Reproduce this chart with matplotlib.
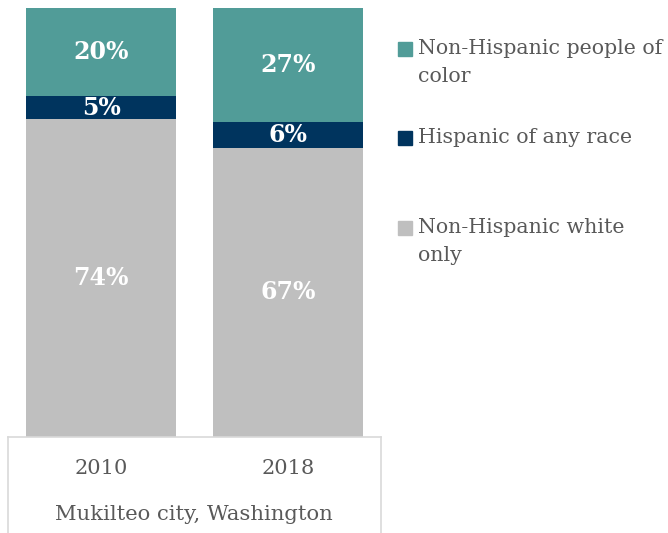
import numpy as np
import matplotlib.pyplot as plt
from matplotlib.patches import Rectangle

# 数据
years = ['2010', '2018']
white_only = [74.1, 67.4]
hispanic = [5.4, 6.0]
poc = [20.5, 26.6]
white_lbl = ['74%', '67%']
hisp_lbl = ['5%', '6%']
poc_lbl = ['20%', '27%']
legend_labels = ['Non-Hispanic people of\ncolor', 'Hispanic of any race', 'Non-Hispanic white\nonly']
place = 'Mukilteo city, Washington'

c_white = '#BFBFBF'
c_hisp = '#00345E'
c_poc = '#519C98'
c_text = '#595959'
c_line = '#D9D9D9'

plt.rcParams['font.family'] = ['DejaVu Serif']

W, H = 668, 533
fig = plt.figure(figsize=(W / 100, H / 100), dpi=100)
ax = fig.add_axes([8 / W, 1 - 437 / H, (381 - 8) / W, (437 - 8) / H])

x = np.arange(len(years))
bw = 0.806
b1 = ax.bar(x, white_only, bw, color=c_white)
b2 = ax.bar(x, hispanic, bw, bottom=white_only, color=c_hisp)
bot3 = np.array(white_only) + np.array(hispanic)
b3 = ax.bar(x, poc, bw, bottom=bot3, color=c_poc)

for bars, labs in [(b1, white_lbl), (b2, hisp_lbl), (b3, poc_lbl)]:
    ax.bar_label(bars, labels=labs, label_type='center', color='white',
                 fontsize=17, fontweight='bold')

ax.set_xlim(-0.5, 1.5)
ax.set_ylim(0, 100)
ax.axis('off')

# 底部的框线
fig.add_artist(plt.Line2D([8 / W, 381 / W], [1 - 437 / H] * 2, color=c_line, lw=1.2))
fig.add_artist(plt.Line2D([8 / W, 8 / W], [0, 1 - 437 / H], color=c_line, lw=1.2))
fig.add_artist(plt.Line2D([381 / W, 381 / W], [0, 1 - 437 / H], color=c_line, lw=1.2))

for i, yr in enumerate(years):
    ax.text(x[i], -7.3, yr, ha='center', va='center', fontsize=15, color=c_text)
fig.text(194 / W, 1 - 515 / H, place, ha='center', va='center', fontsize=15.2, color=c_text)

# 图例（手动放置）
leg_y = [49, 138, 228]
leg_c = [c_poc, c_hisp, c_white]
for yy, cc, lab in zip(leg_y, leg_c, legend_labels):
    fig.add_artist(Rectangle((398 / W, 1 - (yy + 7) / H), 14 / W, 14 / H,
                             transform=fig.transFigure, color=cc))
    fig.text(418 / W, 1 - (yy - 10) / H, lab, ha='left', va='top', fontsize=14.8,
             color=c_text, linespacing=1.62)

fig.savefig('out.png', dpi=100)
